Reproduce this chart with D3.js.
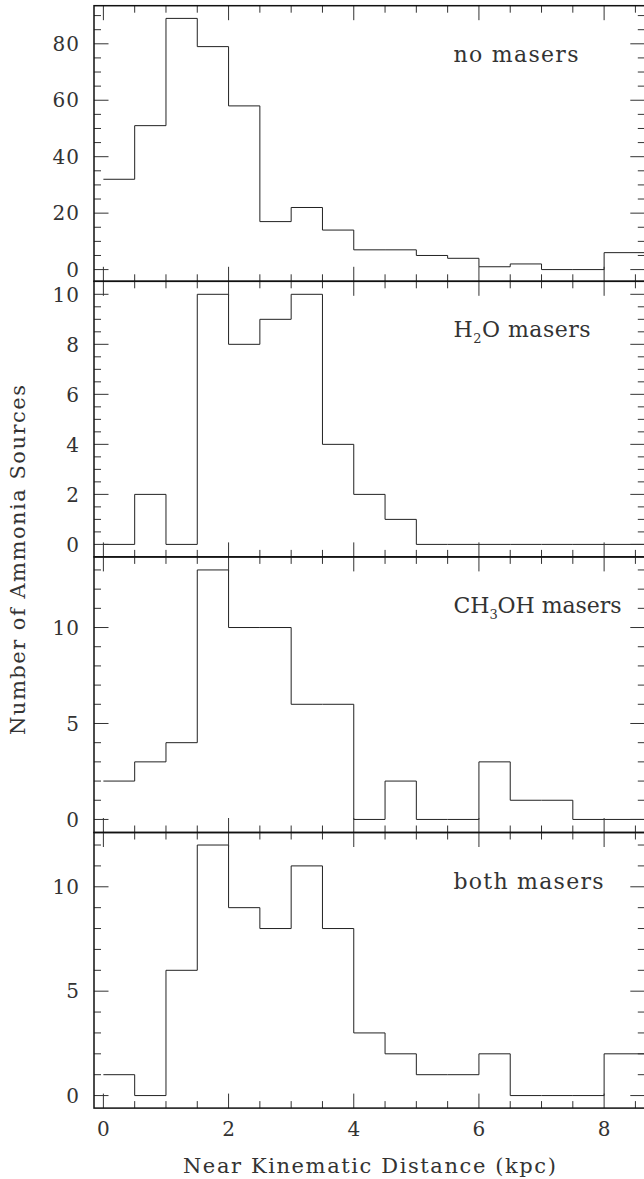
<!DOCTYPE html>
<html>
<head>
<meta charset="utf-8">
<script src="https://cdn.jsdelivr.net/npm/d3@7"></script>
<style>
  body { margin: 0; background: #fff; }
  svg { display: block; }
  text { font-family: "DejaVu Serif", serif; fill: #333; }
</style>
</head>
<body>
<svg width="644" height="1179"></svg>
<script>
// lower edge of each 0.5 kpc bin
var binStart = [0, 0.5, 1, 1.5, 2, 2.5, 3, 3.5, 4, 4.5, 5, 5.5, 6, 6.5, 7, 7.5, 8];
var binWidth = 0.5;

var noMasers    = [32, 51, 89, 79, 58, 17, 22, 14, 7, 7, 5, 4, 1, 2, 0, 0, 6];
var h2oMasers   = [0, 2, 0, 10, 8, 9, 10, 4, 2, 1, 0, 0, 0, 0, 0, 0, 0];
var ch3ohMasers = [2, 3, 4, 13, 10, 10, 6, 6, 0, 2, 0, 0, 3, 1, 1, 0, 0];
var bothMasers  = [1, 0, 6, 12, 9, 8, 11, 8, 3, 2, 1, 1, 2, 0, 0, 0, 2];

var xTickLabels = [0, 2, 4, 6, 8];
var yTicks1 = [0, 20, 40, 60, 80];
var yTicks2 = [0, 2, 4, 6, 8, 10];
var yTicks3 = [0, 5, 10];
var yTicks4 = [0, 5, 10];

var panels = [
  {values: noMasers,    domain: [-4.15, 93.5], major: yTicks1, minorStep: 5,   minorMax: 90, label: [["no masers"]], labelW: 125},
  {values: h2oMasers,   domain: [-0.5, 10.52], major: yTicks2, minorStep: 0.5, minorMax: 10, label: [["H"], ["2", "sub"], ["O masers"]], labelW: 137},
  {values: ch3ohMasers, domain: [-0.68, 13.68], major: yTicks3, minorStep: 1,  minorMax: 13, label: [["CH"], ["3", "sub"], ["OH masers"]], labelW: 168},
  {values: bothMasers,  domain: [-0.6, 12.6],  major: yTicks4, minorStep: 1,   minorMax: 12, label: [["both masers"]], labelW: 150}
];

var plotLeft = 94, plotRight = 644.8, plotTop = 5.7, panelH = 275.6;
var majorLen = 14.5, minorLen = 7;

var svg = d3.select("svg");

var x = d3.scaleLinear()
    .domain([-0.15, 8.65])
    .range([plotLeft, plotRight]);

var xMinor = d3.range(0, 8.51, 0.5);

svg.append("clipPath").attr("id", "plotClip")
  .append("rect")
    .attr("x", plotLeft).attr("y", plotTop)
    .attr("width", plotRight - plotLeft).attr("height", panelH * panels.length);

panels.forEach(function(p, i) {
  var y0 = plotTop + i * panelH, y1 = y0 + panelH;
  var y = d3.scaleLinear().domain(p.domain).range([y1, y0]);
  var g = svg.append("g").attr("class", "panel");

  // histogram as a step line
  var pts = binStart.map(function(b, k) { return [b, p.values[k]]; });
  pts.push([binStart[binStart.length - 1] + 2 * binWidth, p.values[p.values.length - 1]]);
  var line = d3.line()
      .x(function(d) { return x(d[0]); })
      .y(function(d) { return y(d[1]); })
      .curve(d3.curveStepAfter);
  g.append("path")
      .datum(pts)
      .attr("d", line)
      .attr("fill", "none")
      .attr("stroke", "#222")
      .attr("stroke-width", 1)
      .attr("clip-path", "url(#plotClip)");

  // x ticks, bottom (pointing up) and top (pointing down)
  var xt = g.append("g").attr("stroke", "#333").attr("stroke-width", 1);
  xMinor.forEach(function(v) {
    var len = (v % 2 === 0) ? majorLen : minorLen;
    xt.append("line").attr("x1", x(v)).attr("x2", x(v)).attr("y1", y1).attr("y2", y1 - len);
    xt.append("line").attr("x1", x(v)).attr("x2", x(v)).attr("y1", y0).attr("y2", y0 + len);
  });

  // y ticks, left and right (both inward)
  var yMinor = d3.range(0, p.minorMax + 1e-6, p.minorStep);
  yMinor.forEach(function(v) {
    var len = p.major.indexOf(v) >= 0 ? majorLen : minorLen;
    xt.append("line").attr("x1", plotLeft).attr("x2", plotLeft + len).attr("y1", y(v)).attr("y2", y(v));
    xt.append("line").attr("x1", plotRight).attr("x2", plotRight - len).attr("y1", y(v)).attr("y2", y(v));
  });

  // y tick labels
  g.selectAll("text.ylab")
    .data(p.major)
    .join("text")
      .attr("class", "ylab")
      .attr("x", 80)
      .attr("y", function(d) { return y(d); })
      .attr("dy", "0.36em")
      .attr("text-anchor", "end")
      .style("font-size", "20px")
      .style("letter-spacing", "1px")
      .text(function(d) { return d; });

  // panel label
  var lab = g.append("text")
      .attr("x", 453.5)
      .attr("y", y0 + 56)
      .attr("textLength", p.labelW)
      .attr("lengthAdjust", "spacing")
      .style("font-size", "22px");
  p.label.forEach(function(part, k) {
    if (part[1] === "sub") {
      lab.append("tspan").attr("dy", 6).style("font-size", "13px").text(part[0]);
    } else {
      var t = lab.append("tspan").text(part[0]);
      if (k > 0) t.attr("dy", -6);
    }
  });

  // frame
  g.append("rect")
      .attr("x", plotLeft).attr("y", y0)
      .attr("width", plotRight - plotLeft).attr("height", panelH)
      .attr("fill", "none")
      .attr("stroke", "#111")
      .attr("stroke-width", 1.5);
});

// x tick labels under the last panel
var plotBottom = plotTop + panelH * panels.length;
svg.selectAll("text.xlab")
  .data(xTickLabels)
  .join("text")
    .attr("class", "xlab")
    .attr("x", function(d) { return x(d); })
    .attr("y", plotBottom + 28)
    .attr("text-anchor", "middle")
    .style("font-size", "20px")
    .text(function(d) { return d; });

svg.append("text")
    .attr("x", (plotLeft + plotRight) / 2)
    .attr("y", 1173)
    .attr("text-anchor", "middle")
    .attr("textLength", 373)
    .attr("lengthAdjust", "spacing")
    .style("font-size", "21px")
    .text("Near Kinematic Distance (kpc)");

svg.append("text")
    .attr("transform", "translate(25," + 560 + ") rotate(-90)")
    .attr("text-anchor", "middle")
    .attr("textLength", 350)
    .attr("lengthAdjust", "spacing")
    .style("font-size", "21px")
    .text("Number of Ammonia Sources");
</script>
</body>
</html>
